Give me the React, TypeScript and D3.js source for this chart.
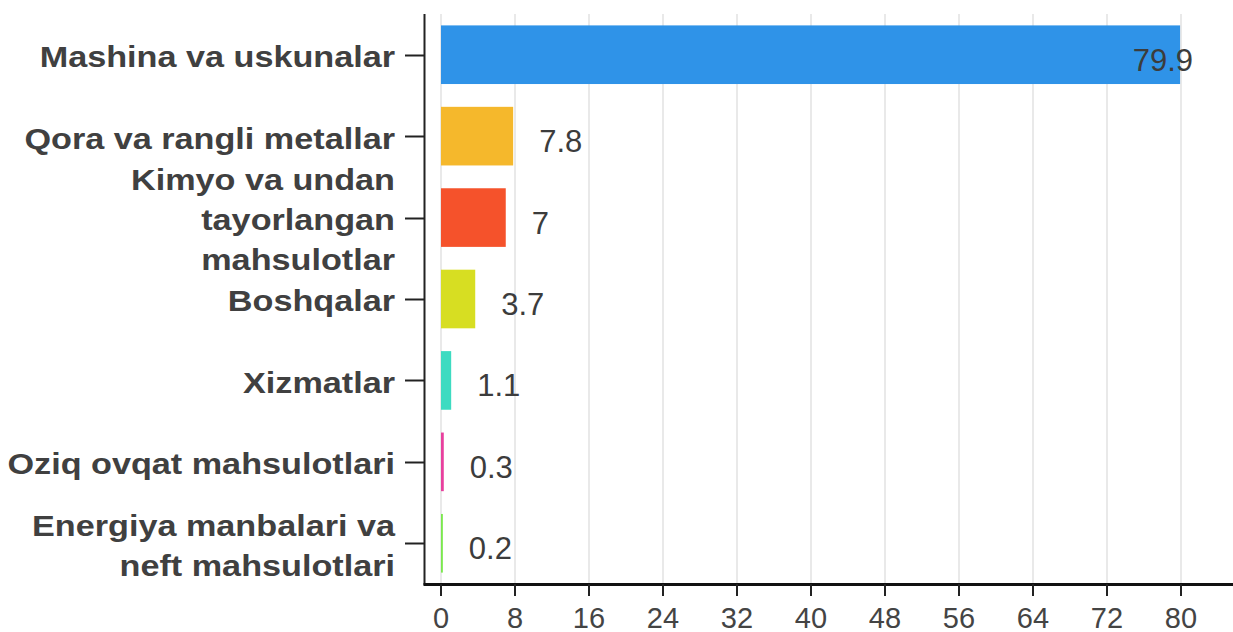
import React from "react";
import * as d3 from "d3";

const categories: string[][] = [
  ["Mashina va uskunalar"],
  ["Qora va rangli metallar"],
  ["Kimyo va undan", "tayorlangan", "mahsulotlar"],
  ["Boshqalar"],
  ["Xizmatlar"],
  ["Oziq ovqat mahsulotlari"],
  ["Energiya manbalari va", "neft mahsulotlari"],
];
const values: number[] = [79.9, 7.8, 7, 3.7, 1.1, 0.3, 0.2];
const valueLabels: string[] = ["79.9", "7.8", "7", "3.7", "1.1", "0.3", "0.2"];
const colors: string[] = ["#2f93e8", "#f5b82c", "#f5522b", "#d7de22", "#3ddbc1", "#e8409e", "#7be84e"];
const xTicks: number[] = [0, 8, 16, 24, 32, 40, 48, 56, 64, 72, 80];

const W = 1233;
const H = 632;
const axisX = 424.5;
const plotTop = 14;
const plotBottom = 584;

export default function App() {
  const x = d3.scaleLinear().domain([0, 80]).range([441, 1181]);
  const y = d3
    .scaleBand<number>()
    .domain(d3.range(values.length))
    .range([plotTop, plotBottom])
    .paddingInner(0.28)
    .paddingOuter(0.14);
  const lineH = 40;
  const labelRight = 395;
  const textColor = "#404040";

  return (
    <svg
      width={W}
      height={H}
      style={{ position: "absolute", left: 0, top: 0, display: "block", background: "#fff" }}
      fontFamily="'Liberation Sans', Arial, sans-serif"
    >
      {/* grid */}
      {xTicks.map((t) => (
        <line key={"g" + t} x1={x(t)} x2={x(t)} y1={plotTop} y2={plotBottom} stroke="#e2e2e2" strokeWidth={1.5} />
      ))}
      {/* bars */}
      {values.map((v, i) => (
        <rect
          key={"b" + i}
          x={x(0)}
          y={y(i)!}
          width={Math.max(x(v) - x(0), 1.5)}
          height={y.bandwidth()}
          fill={colors[i]}
        />
      ))}
      {/* value labels */}
      {values.map((v, i) => {
        const cy = y(i)! + y.bandwidth() / 2;
        const overflow = x(v) + 26 + 60 > W - 30;
        return (
          <text
            key={"v" + i}
            x={overflow ? x(v) + 13 : x(v) + 26}
            y={cy + 16}
            textAnchor={overflow ? "end" : "start"}
            fontSize={31}
            fill="#3c3c3c"
          >
            {valueLabels[i]}
          </text>
        );
      })}
      {/* y axis */}
      <line x1={axisX} x2={axisX} y1={plotTop} y2={plotBottom + 1} stroke="#222" strokeWidth={2} />
      {values.map((_, i) => {
        const cy = Math.round(y(i)! + y.bandwidth() / 2) + 0.5;
        return <line key={"yt" + i} x1={405} x2={axisX} y1={cy} y2={cy} stroke="#222" strokeWidth={2} />;
      })}
      {categories.map((lines, i) => {
        const cy = y(i)! + y.bandwidth() / 2;
        const first = cy + 12.5 - ((lines.length - 1) * lineH) / 2;
        return (
          <g key={"c" + i} transform={`translate(${labelRight},0) scale(1.14,1)`}>
            {lines.map((ln, j) => (
              <text
                key={j}
                x={0}
                y={first + j * lineH}
                textAnchor="end"
                fontSize={30}
                fontWeight="bold"
                fill={textColor}
              >
                {ln}
              </text>
            ))}
          </g>
        );
      })}
      {/* x axis */}
      <line x1={axisX - 1} x2={W} y1={plotBottom + 0.5} y2={plotBottom + 0.5} stroke="#111" strokeWidth={3} />
      {xTicks.map((t) => (
        <g key={"xt" + t}>
          <line x1={x(t)} x2={x(t)} y1={plotBottom} y2={596} stroke="#222" strokeWidth={2} />
          <text x={x(t)} y={628} textAnchor="middle" fontSize={29} fill="#444">
            {t}
          </text>
        </g>
      ))}
    </svg>
  );
}
